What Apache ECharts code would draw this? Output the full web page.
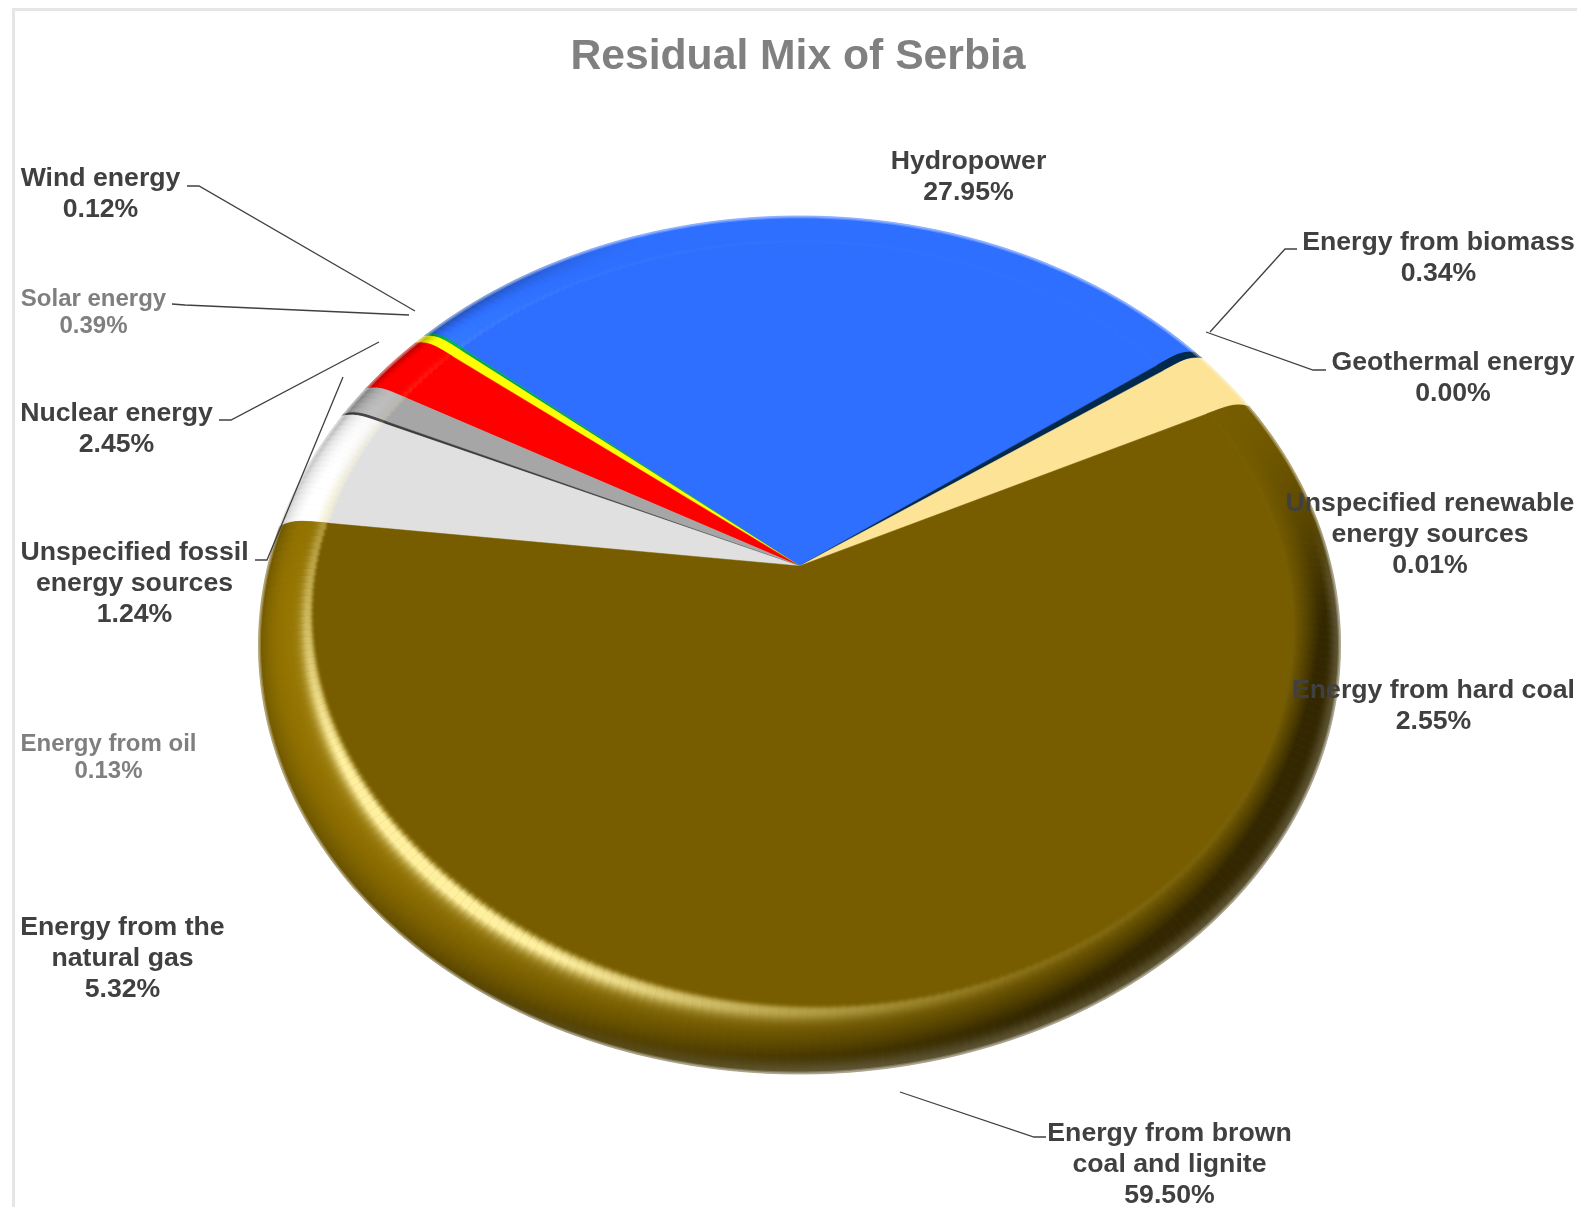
<!DOCTYPE html>
<html><head><meta charset="utf-8">
<style>html,body{margin:0;padding:0;background:#fff}#c{width:1577px;height:1207px}</style>
<script src="https://cdn.jsdelivr.net/npm/echarts@6/dist/echarts.min.js"></script>
</head><body><div id="c"></div>
<script>
const categories = ['Hydropower','Energy from biomass','Geothermal energy','Unspecified renewable energy sources','Energy from hard coal','Energy from brown coal and lignite','Energy from the natural gas','Energy from oil','Unspecified fossil energy sources','Nuclear energy','Solar energy','Wind energy'];
const shares = [27.95,0.34,0.00,0.01,2.55,59.50,5.32,0.13,1.24,2.45,0.39,0.12];
const labelLines = [['Hydropower'],['Energy from biomass'],['Geothermal energy'],['Unspecified renewable','energy sources'],['Energy from hard coal'],['Energy from brown','coal and lignite'],['Energy from the','natural gas'],['Energy from oil'],['Unspecified fossil','energy sources'],['Nuclear energy'],['Solar energy'],['Wind energy']];
const sliceColors = ['#2e6fff','#00294d','#1f4e79','#00294d','#fde396','#775d00','#e0e0e0','#3c3c3c','#a6a6a6','#ff0000','#ffff00','#00a650'];
const labelColors = ['#404040','#404040','#404040','#404040','#404040','#404040','#404040','#7f7f7f','#404040','#404040','#7f7f7f','#404040'];
const labelAnchors = [[968.5,162],[1438.5,243],[1453,363],[1430,504],[1433.5,691],[1169.5,1134],[122.5,928],[108.5,744],[134.5,553],[116.5,414],[93.5,299],[100.5,179]];
const leaders = [null,[[1297,249],[1285,249],[1210,332]],[[1326,370],[1313,370],[1206,332]],null,null,[[1046,1137],[1034,1137],[900,1092]],null,null,[[255,560],[267,560],[343,377]],[[219,420],[231,420],[379,342]],[[172,304],[185,305],[409,315]],[[187,186],[199,186],[415,311]]];
const paintOrder = [0,1,2,3,4,11,10,9,8,7,6,5];
// how each slice's edge bends at the rim: [start side, end side], -1 = pulled back, +1 = runs on under the neighbour
const rimBend = [[1,1],[-1,1],[-1,1],[-1,1],[-1,1],[-1,-1],[1,-1],[1,-1],[1,-1],[1,-1],[1,-1],[1,-1]];
// small calibration of the view's perspective: [pie angle, correction in degrees]
const viewFix = [[-82.74,1.38],[-63.1,-0.9],[-48,-0.8],[52.6,0],[63,-0.46],[277.26,1.38]];

const startAngle = -48;
const cx = 799.5, cy = 645, rx = 541, ry = 429, apexY = 566;
const a = (apexY - cy) / ry, aRim = -0.15;
const RAD = Math.PI / 180, bendDeg = 1.1;
const L1 = [-0.45, -0.45, 0.77], L2 = [-0.6, 0.5, 0.62];
const H = (() => { const t = 14 * RAD; return [-Math.SQRT1_2 * Math.sin(t), Math.SQRT1_2 * Math.sin(t), Math.cos(t)]; })();

function fixAngle(deg) {
  let d = deg; while (d < -82.74 - 1e-6) d += 360; while (d >= 277.26) d -= 360;
  for (let i = 0; i < viewFix.length - 1; i++) {
    const p = viewFix[i], q = viewFix[i + 1];
    if (d >= p[0] && d <= q[0]) return d + p[1] + (q[1] - p[1]) * (d - p[0]) / (q[0] - p[0]);
  }
  return d + viewFix[0][1];
}
function disc(r, deg, aa) {
  const th = deg * RAD, x = r * Math.sin(th), y = -r * Math.cos(th), w = 1 + aa * y, k = Math.sqrt(1 - aa * aa);
  return [cx + rx * x * k / w, cy + ry * (y + aa) / w];
}
function project(r, deg) {
  const d = fixAngle(deg);
  const p = disc(r, d, a), q = disc(1, d, a), rim = disc(1, d, aRim);
  const rho = Math.hypot(p[0] - cx, p[1] - apexY) / Math.hypot(q[0] - cx, q[1] - apexY);
  return [cx + (rim[0] - cx) * rho, apexY + (rim[1] - apexY) * rho];
}
function innerR(deg) {
  const dx = Math.sin(deg * RAD), dy = -Math.cos(deg * RAD), b = Math.max(0, dy), c = Math.max(0, (dy - dx) / Math.SQRT2);
  return 0.91 - 0.02 * b * b - 0.03 * c * c * c * c;
}
function rAt(s, deg) { const i = innerR(deg); return i + (1 - i) * s; }
function hexRgb(h) { return [1, 3, 5].map(i => parseInt(h.substr(i, 2), 16)); }
function sm(e0, e1, x) { const t = Math.max(0, Math.min(1, (x - e0) / (e1 - e0))); return t * t * (3 - 2 * t); }
function shade(rgb, s, deg) {
  const th = deg * RAD, dx = Math.sin(th), dy = -Math.cos(th), al = s * 80 * RAD;
  const n = [dx * Math.sin(al), dy * Math.sin(al), Math.cos(al)];
  const dot = l => n[0] * l[0] + n[1] * l[1] + n[2] * l[2];
  const f1 = Math.max(0, dot(L1) / L1[2]), f2 = Math.max(0, dot(L2) / L2[2]);
  let diff = 0.5 * f1 + 0.5 * f2;
  const w = Math.max(sm(-0.5, 0.55, dy), sm(0.3, 0.9, -dx));
  diff = Math.max(0.42, 1 + (diff - 1) * w);
  const dh = Math.max(0, dot(H));
  const sp = (Math.pow(dh, 70) + 0.2 * Math.pow(dh, 22) * sm(0.3, 0.9, (dy - dx) / Math.SQRT2)) * sm(0, 0.1, s);
  const lum = (rgb[0] * 0.3 + rgb[1] * 0.59 + rgb[2] * 0.11) / 255;
  const gain = diff > 1 ? 1 - 0.5 * lum * lum : 1;
  let c = rgb.map(v => v * (1 + (diff - 1) * gain));
  const m = sm(0.7, 1, s) * sm(0.8, 0.45, diff) * 0.65, rimTone = [120, 112, 84];
  c = c.map((v, i) => v + (rimTone[i] - v) * m);
  const spc = [255, 240, 160];
  c = c.map((v, i) => v + (spc[i] - v) * Math.min(1, sp));
  return 'rgb(' + c.map(v => Math.round(Math.min(255, v))).join(',') + ')';
}
const sVals = [0, 0.1, 0.2, 0.3, 0.4, 0.5, 0.6, 0.7, 0.8, 0.9, 1];
function renderSlice(params, api) {
  const i = api.value(0), v = api.value(1), before = api.value(2);
  if (v <= 0) return { type: 'group', children: [] };
  const a0 = startAngle + before * 3.6, a1 = a0 + v * 3.6;
  const rgb = hexRgb(sliceColors[i]), kids = [], bend = rimBend[i];
  const seg = Math.max(1, Math.ceil(a1 - a0));
  const pt = (s, j) => {
    const f = Math.pow(s, 5) * bendDeg;
    const st = a0 - bend[0] * f, e = a1 + bend[1] * f;
    const d = st + (e - st) * j / seg;
    return project(rAt(s, d), d);
  };
  const pts = [[cx, apexY]];
  sVals.forEach(s => pts.push(pt(s, 0)));
  for (let j = 1; j < seg; j++) pts.push(pt(1, j));
  sVals.slice().reverse().forEach(s => pts.push(pt(s, seg)));
  kids.push({ type: 'polygon', shape: { points: pts }, style: { fill: sliceColors[i], stroke: sliceColors[i], lineWidth: 0.5 } });
  for (let j = 0; j < seg; j++) {
    const mid = a0 + (a1 - a0) * (j + 0.5) / seg, p0 = project(rAt(0, mid), mid), p1 = project(1, mid);
    const stops = [];
    for (let q = 0; q <= 40; q++) stops.push({ offset: q / 40, color: shade(rgb, q / 40, mid) });
    const grad = { type: 'linear', x: p0[0], y: p0[1], x2: p1[0], y2: p1[1], global: true, colorStops: stops };
    const quad = [];
    sVals.forEach(s => quad.push(pt(s, j)));
    sVals.slice().reverse().forEach(s => quad.push(pt(s, j + 1)));
    kids.push({ type: 'polygon', shape: { points: quad }, style: { fill: grad, stroke: grad, lineWidth: 0.5 } });
  }
  return { type: 'group', children: kids };
}
function renderRim() {
  const pts = [];
  for (let d = -82; d < 277; d += 1) pts.push(project(1, d));
  return { type: 'group', children: [
    { type: 'polygon', shape: { points: pts }, style: { fill: null, stroke: 'rgba(255,255,255,0.22)', lineWidth: 5 } },
    { type: 'polygon', shape: { points: pts }, style: { fill: null, stroke: 'rgba(255,255,255,0.3)', lineWidth: 2.5 } }
  ] };
}
function renderLabel(params, api) {
  const i = api.value(0), v = api.value(1);
  const small = labelColors[i] === '#7f7f7f', fs = small ? 24 : 26.67, lh = small ? 27 : 30.7;
  const kids = [];
  const lines = labelLines[i].concat([v.toFixed(2) + '%']);
  const [x, y] = labelAnchors[i];
  lines.forEach((t, j) => kids.push({ type: 'text', style: { x, y: y + j * lh, text: t, fill: labelColors[i], font: 'bold ' + fs + 'px "Liberation Sans", Arial, sans-serif', align: 'center', verticalAlign: 'middle' } }));
  const p = leaders[i];
  if (p) kids.push({ type: 'polyline', shape: { points: p }, style: { fill: null, stroke: '#404040', lineWidth: 1.3 } });
  return { type: 'group', children: kids };
}
let run = 0;
const sliceData = shares.map((v, i) => { const d = [i, v, run]; run += v; return d; });
const chart = echarts.init(document.getElementById('c'), null, { renderer: 'canvas' });
chart.setOption({
  animation: false,
  backgroundColor: '#ffffff',
  title: { text: 'Residual Mix of Serbia', left: 793, top: 31, textAlign: 'center', textStyle: { color: '#808080', fontSize: 42.67, fontWeight: 'bold', fontFamily: '"Liberation Sans", Arial, sans-serif' } },
  graphic: [{ type: 'polyline', silent: true, shape: { points: [[13.5, 1207], [13.5, 9.5], [1577, 9.5]] }, style: { fill: null, stroke: '#e6e6e6', lineWidth: 3 } }],
  series: [
    { type: 'custom', coordinateSystem: 'none', name: 'Residual Mix', silent: true, data: paintOrder.map(i => sliceData[i]), renderItem: renderSlice, z: 2 },
    { type: 'custom', coordinateSystem: 'none', name: 'Rim', silent: true, data: [[0]], renderItem: renderRim, z: 3 },
    { type: 'custom', coordinateSystem: 'none', name: 'Labels', silent: true, data: sliceData, renderItem: renderLabel, z: 5 }
  ]
});
</script></body></html>
